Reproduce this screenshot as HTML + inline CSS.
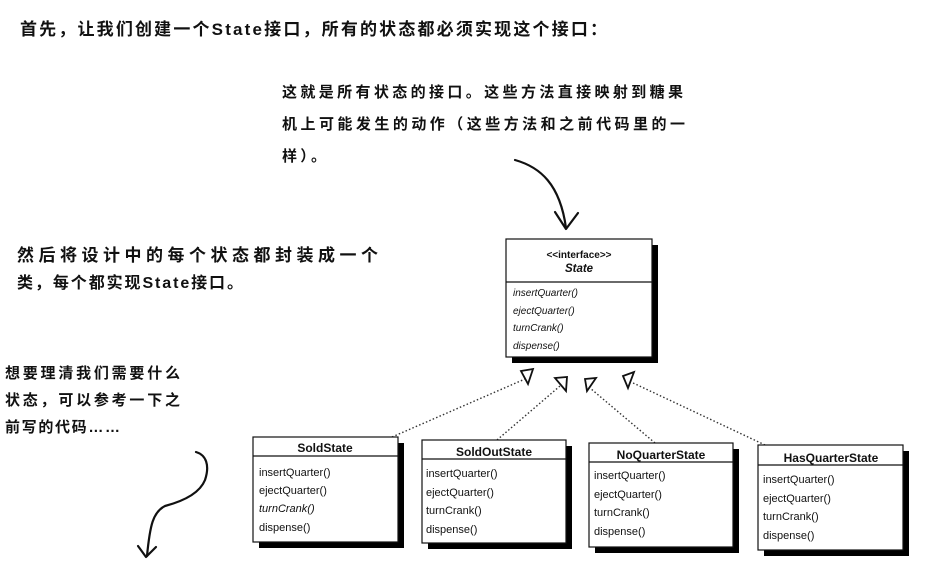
<!DOCTYPE html>
<html>
<head>
<meta charset="utf-8">
<style>
  html, body { margin: 0; padding: 0; background: #fff; }
  body { width: 931px; height: 568px; overflow: hidden; }
  svg { display: block; }
  .cn { font-family: "Liberation Sans", "Noto Sans CJK SC", sans-serif; font-weight: 700; fill: #111; }
  .uml { font-family: "Liberation Sans", Arial, sans-serif; fill: #111; }
  .ttl { font-weight: 700; font-size: 12px; }
  .m { font-size: 11px; }
  .mi { font-size: 10px; font-style: italic; }
</style>
</head>
<body>
<svg width="931" height="568" viewBox="0 0 931 568" xmlns="http://www.w3.org/2000/svg">
  <rect x="0" y="0" width="931" height="568" fill="#fff"/>

  <!-- Top heading -->
  <text class="cn" x="20" y="35" font-size="17" textLength="587" lengthAdjust="spacing">首先，让我们创建一个State接口，所有的状态都必须实现这个接口：</text>

  <!-- Annotation for interface -->
  <text class="cn" x="282" y="97" font-size="15" textLength="401" lengthAdjust="spacing">这就是所有状态的接口。这些方法直接映射到糖果</text>
  <text class="cn" x="282" y="129" font-size="15" textLength="403" lengthAdjust="spacing">机上可能发生的动作（这些方法和之前代码里的一</text>
  <text class="cn" x="282" y="161" font-size="15" textLength="44" lengthAdjust="spacing">样）。</text>

  <!-- Left annotation -->
  <text class="cn" x="17" y="261" font-size="17" textLength="361" lengthAdjust="spacing">然后将设计中的每个状态都封装成一个</text>
  <text class="cn" x="17" y="288" font-size="16" textLength="226" lengthAdjust="spacing">类，每个都实现State接口。</text>

  <!-- Lower-left annotation -->
  <text class="cn" x="5" y="378" font-size="15" textLength="175" lengthAdjust="spacing">想要理清我们需要什么</text>
  <text class="cn" x="5" y="405" font-size="15" textLength="175" lengthAdjust="spacing">状态，可以参考一下之</text>
  <text class="cn" x="5" y="432" font-size="15" textLength="115" lengthAdjust="spacing">前写的代码……</text>

  <!-- Hand-drawn arrows -->
  <g fill="none" stroke="#111" stroke-width="2.2" stroke-linecap="round" stroke-linejoin="round">
    <path d="M515,160 C540,167 560,184 566,228"/>
    <path d="M555,212 L566,229 L578,213"/>
    <path d="M196,452 C206,455 210,465 205,480 C199,495 180,502 165,506 C153,512 150,525 147,556"/>
    <path d="M138,546 L146,557 L156,547"/>
  </g>

  <!-- Dotted realization lines -->
  <g fill="none" stroke="#333" stroke-width="1.4" stroke-dasharray="1.5 2.2">
    <line x1="392" y1="437" x2="525" y2="379"/>
    <line x1="497" y1="440" x2="560" y2="386"/>
    <line x1="655" y1="443" x2="590" y2="388"/>
    <line x1="765" y1="445" x2="631" y2="382"/>
  </g>

  <!-- State interface box -->
  <rect x="512" y="245" width="146" height="118" fill="#000"/>
  <rect x="506" y="239" width="146" height="118" fill="#fff" stroke="#111" stroke-width="1.2"/>
  <line x1="506" y1="282" x2="652" y2="282" stroke="#111" stroke-width="1.2"/>
  <text class="uml" x="579" y="258" font-size="10" font-weight="700" text-anchor="middle">&lt;&lt;interface&gt;&gt;</text>
  <text class="uml" x="579" y="272" font-size="11.5" font-weight="700" font-style="italic" text-anchor="middle">State</text>
  <text class="uml mi" x="513" y="296">insertQuarter()</text>
  <text class="uml mi" x="513" y="314">ejectQuarter()</text>
  <text class="uml mi" x="513" y="331">turnCrank()</text>
  <text class="uml mi" x="513" y="349">dispense()</text>

  <!-- Triangles -->
  <g fill="#fff" stroke="#111" stroke-width="1.8" stroke-linejoin="miter">
    <polygon points="521,371 533,369 528,384"/>
    <polygon points="555,378 567,377 566,391"/>
    <polygon points="585,379 596,378 587,391"/>
    <polygon points="623,376 634,372 628,388"/>
  </g>

  <!-- SoldState -->
  <rect x="259" y="443" width="145" height="105" fill="#000"/>
  <rect x="253" y="437" width="145" height="105" fill="#fff" stroke="#111" stroke-width="1.2"/>
  <line x1="253" y1="456" x2="398" y2="456" stroke="#111" stroke-width="1.2"/>
  <text class="uml ttl" x="325" y="452" text-anchor="middle">SoldState</text>
  <text class="uml m" x="259" y="476">insertQuarter()</text>
  <text class="uml m" x="259" y="494">ejectQuarter()</text>
  <text class="uml m" x="259" y="512" font-style="italic">turnCrank()</text>
  <text class="uml m" x="259" y="531">dispense()</text>

  <!-- SoldOutState -->
  <rect x="428" y="446" width="144" height="103" fill="#000"/>
  <rect x="422" y="440" width="144" height="103" fill="#fff" stroke="#111" stroke-width="1.2"/>
  <line x1="422" y1="459" x2="566" y2="459" stroke="#111" stroke-width="1.2"/>
  <text class="uml ttl" x="494" y="456" text-anchor="middle">SoldOutState</text>
  <text class="uml m" x="426" y="477">insertQuarter()</text>
  <text class="uml m" x="426" y="496">ejectQuarter()</text>
  <text class="uml m" x="426" y="514">turnCrank()</text>
  <text class="uml m" x="426" y="533">dispense()</text>

  <!-- NoQuarterState -->
  <rect x="595" y="449" width="144" height="104" fill="#000"/>
  <rect x="589" y="443" width="144" height="104" fill="#fff" stroke="#111" stroke-width="1.2"/>
  <line x1="589" y1="462" x2="733" y2="462" stroke="#111" stroke-width="1.2"/>
  <text class="uml ttl" x="661" y="459" text-anchor="middle">NoQuarterState</text>
  <text class="uml m" x="594" y="479">insertQuarter()</text>
  <text class="uml m" x="594" y="498">ejectQuarter()</text>
  <text class="uml m" x="594" y="516">turnCrank()</text>
  <text class="uml m" x="594" y="535">dispense()</text>

  <!-- HasQuarterState -->
  <rect x="764" y="451" width="145" height="105" fill="#000"/>
  <rect x="758" y="445" width="145" height="105" fill="#fff" stroke="#111" stroke-width="1.2"/>
  <line x1="758" y1="465" x2="903" y2="465" stroke="#111" stroke-width="1.2"/>
  <text class="uml ttl" x="831" y="462" text-anchor="middle">HasQuarterState</text>
  <text class="uml m" x="763" y="483" font-size="10.5">insertQuarter()</text>
  <text class="uml m" x="763" y="502" font-size="10.5">ejectQuarter()</text>
  <text class="uml m" x="763" y="520" font-size="10.5">turnCrank()</text>
  <text class="uml m" x="763" y="539" font-size="10.5">dispense()</text>
</svg>
</body>
</html>
